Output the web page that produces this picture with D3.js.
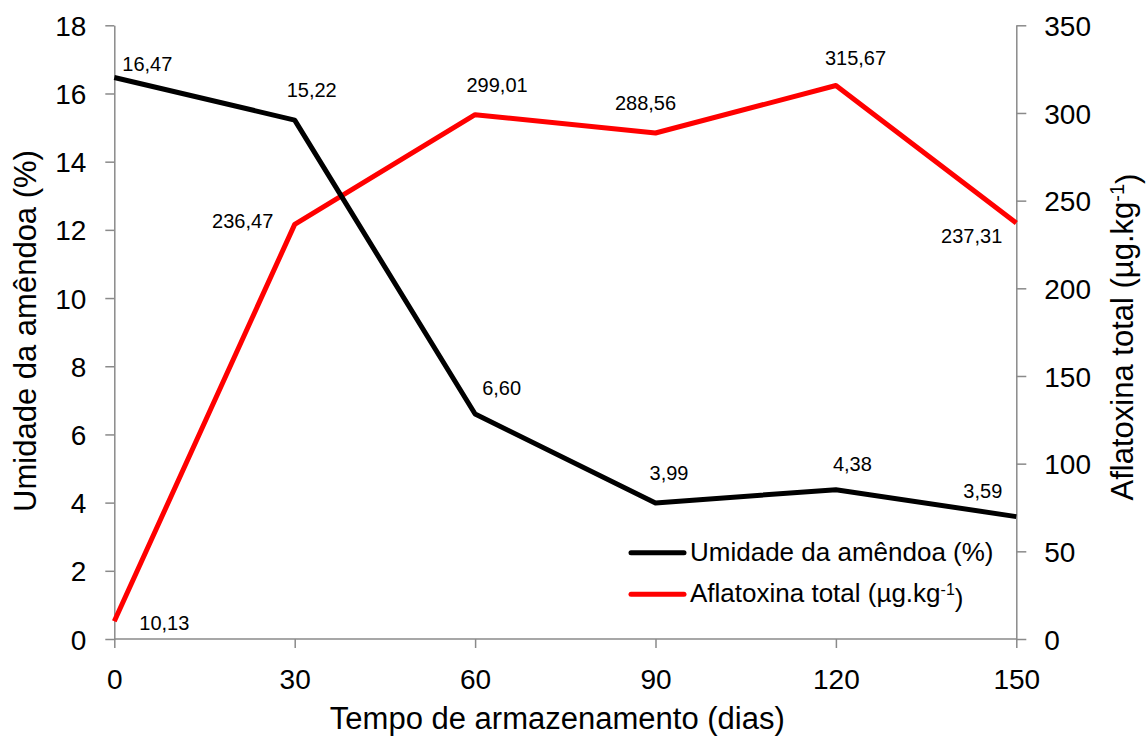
<!DOCTYPE html>
<html>
<head>
<meta charset="utf-8">
<script src="https://cdn.jsdelivr.net/npm/d3@7/dist/d3.min.js"></script>
<style>
  html, body { margin: 0; padding: 0; background: #fff; }
  svg { display: block; font-family: "Liberation Sans", Arial, sans-serif; }
</style>
</head>
<body>
<svg id="chart" width="1148" height="738"></svg>
<script>
// ---- data ----
const days = [0, 30, 60, 90, 120, 150];
const umidade = [16.47, 15.22, 6.60, 3.99, 4.38, 3.59];
const aflatoxina = [10.13, 236.47, 299.01, 288.56, 315.67, 237.31];
const xTicks = [0, 30, 60, 90, 120, 150];
const leftTicks = [0, 2, 4, 6, 8, 10, 12, 14, 16, 18];
const rightTicks = [0, 50, 100, 150, 200, 250, 300, 350];
const umidadeLabels = ["16,47", "15,22", "6,60", "3,99", "4,38", "3,59"];
const aflatoxinaLabels = ["10,13", "236,47", "299,01", "288,56", "315,67", "237,31"];

// label offsets (label centre x / baseline y relative to point)
const umidadeLabelOffsets = [[33, -6.5], [17, -23], [26.5, -19], [13.5, -22.7], [16.5, -18.5], [-33.5, -18.5]];
const aflatoxinaLabelOffsets = [[50, 9], [-52, 3.5], [22, -22.7], [-10, -22.8], [19.6, -20.2], [-44.6, 20.6]];

// ---- layout ----
const L = 114.3, R = 1016.3, T = 25.3, B = 639;
const axisColor = "#8a8a8a";

const svg = d3.select("#chart");
const x = d3.scaleLinear().domain([0, 150]).range([L, R]);
const yL = d3.scaleLinear().domain([0, 18]).range([B, T]);
const yR = d3.scaleLinear().domain([0, 350]).range([B, T]);

function styleAxis(g) {
  g.selectAll("path.domain").attr("stroke", axisColor).attr("stroke-width", 1.5);
  g.selectAll(".tick line").attr("stroke", axisColor).attr("stroke-width", 1.5);
  g.selectAll(".tick text").attr("fill", "#000").style("font-size", "28px")
    .style("font-family", '"Liberation Sans", Arial, sans-serif');
}

// x axis
const gx = svg.append("g").attr("transform", `translate(0,${B})`)
  .call(d3.axisBottom(x).tickValues(xTicks).tickSize(9).tickSizeOuter(0).tickPadding(20));
styleAxis(gx);
gx.selectAll(".tick text").attr("y", 50).attr("dy", 0);

// left axis
const gl = svg.append("g").attr("transform", `translate(${L},0)`)
  .call(d3.axisLeft(yL).tickValues(leftTicks).tickSize(9).tickSizeOuter(0));
styleAxis(gl);
gl.selectAll(".tick text").attr("x", -28).attr("dy", "0.36em");

// right axis
const gr = svg.append("g").attr("transform", `translate(${R},0)`)
  .call(d3.axisRight(yR).tickValues(rightTicks).tickSize(10).tickSizeOuter(0));
styleAxis(gr);
gr.selectAll(".tick text").attr("x", 28).attr("dy", "0.36em");

// left axis domain without outer extension (make sure the x axis spans the width)
gx.select("path.domain").attr("d", `M${L},0H${R}`);

// axis titles
svg.append("text")
  .attr("transform", `translate(${x(75) - 8},729)`)
  .attr("text-anchor", "middle").style("font-size", "31px").attr("fill", "#000")
  .text("Tempo de armazenamento (dias)");

svg.append("text")
  .attr("transform", `translate(36,331) rotate(-90)`)
  .attr("text-anchor", "middle").style("font-size", "31px").attr("fill", "#000")
  .text("Umidade da amêndoa (%)");

const rt = svg.append("text")
  .attr("transform", `translate(1133,337) rotate(-90)`)
  .attr("text-anchor", "middle").style("font-size", "31px").attr("fill", "#000");
rt.append("tspan").text("Aflatoxina total (µg.kg");
rt.append("tspan").attr("dy", "-0.45em").style("font-size", "20px").text("-1");
rt.append("tspan").attr("dy", "0.45em").text(")");

// lines
const lineL = d3.line().x((d, i) => x(days[i])).y(d => yL(d));
const lineR = d3.line().x((d, i) => x(days[i])).y(d => yR(d));

svg.append("path").datum(aflatoxina).attr("d", lineR)
  .attr("fill", "none").attr("stroke", "#ff0000").attr("stroke-width", 5)
  .attr("stroke-linejoin", "round");
svg.append("path").datum(umidade).attr("d", lineL)
  .attr("fill", "none").attr("stroke", "#000").attr("stroke-width", 5)
  .attr("stroke-linejoin", "round");

// data labels
svg.append("g").selectAll("text").data(umidade).join("text")
  .attr("x", (d, i) => x(days[i]) + umidadeLabelOffsets[i][0])
  .attr("y", (d, i) => yL(d) + umidadeLabelOffsets[i][1])
  .attr("text-anchor", "middle").style("font-size", "20px").attr("fill", "#000")
  .text((d, i) => umidadeLabels[i]);

svg.append("g").selectAll("text").data(aflatoxina).join("text")
  .attr("x", (d, i) => x(days[i]) + aflatoxinaLabelOffsets[i][0])
  .attr("y", (d, i) => yR(d) + aflatoxinaLabelOffsets[i][1])
  .attr("text-anchor", "middle").style("font-size", "20px").attr("fill", "#000")
  .text((d, i) => aflatoxinaLabels[i]);

// legend
const legend = svg.append("g");
const legendItems = [
  { color: "#000", y: 552.7, main: "Umidade da amêndoa (%)", sup: null, tail: null },
  { color: "#ff0000", y: 594.3, main: "Aflatoxina total (µg.kg", sup: "-1", tail: ")" }
];
legendItems.forEach(it => {
  legend.append("line").attr("x1", 631).attr("x2", 684).attr("y1", it.y).attr("y2", it.y)
    .attr("stroke", it.color).attr("stroke-width", 5).attr("stroke-linecap", "round");
  const t = legend.append("text").attr("x", 690).attr("y", it.y + 8)
    .style("font-size", "26px").attr("fill", "#000");
  t.append("tspan").text(it.main);
  if (it.sup) {
    t.append("tspan").attr("dy", "-0.45em").style("font-size", "16px").text(it.sup);
    t.append("tspan").attr("dy", "0.45em").text(it.tail);
  }
});
</script>
</body>
</html>
